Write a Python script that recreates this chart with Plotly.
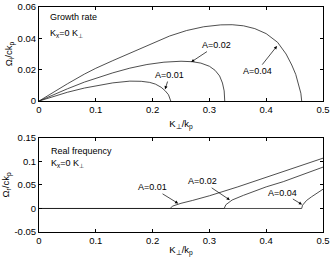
import plotly.graph_objects as go
from plotly.subplots import make_subplots

# Growth rate data (Omega_i / c k_p vs K_perp / k_p)
gx_001 = [0, 0.02, 0.05, 0.08, 0.1, 0.13, 0.16, 0.18, 0.195, 0.205, 0.215, 0.222, 0.228, 0.231, 0.232]
gy_001 = [0, 0.0023, 0.0056, 0.0083, 0.0098, 0.0116, 0.0127, 0.0126, 0.0119, 0.0108, 0.0088, 0.0066, 0.0040, 0.0018, 0]
gx_002 = [0, 0.02, 0.05, 0.08, 0.1, 0.13, 0.16, 0.19, 0.22, 0.25, 0.27, 0.285, 0.3, 0.31, 0.318, 0.323, 0.326, 0.327]
gy_002 = [0, 0.0032, 0.0078, 0.0121, 0.0146, 0.0180, 0.0210, 0.0233, 0.0248, 0.0254, 0.0251, 0.0242, 0.0222, 0.0196, 0.0160, 0.0115, 0.0065, 0]
gx_004 = [0, 0.02, 0.05, 0.08, 0.1, 0.13, 0.16, 0.2, 0.23, 0.26, 0.29, 0.32, 0.34, 0.36, 0.38, 0.4, 0.42, 0.435, 0.445, 0.452, 0.458, 0.461, 0.4625]
gy_004 = [0, 0.0045, 0.0110, 0.0172, 0.0209, 0.0258, 0.0305, 0.0370, 0.0415, 0.0450, 0.0474, 0.0486, 0.0487, 0.0480, 0.0462, 0.0430, 0.0375, 0.0300, 0.0230, 0.0170, 0.0100, 0.0050, 0]

# Real frequency data (Omega_r / c k_p)
rx_001 = [0, 0.231, 0.235, 0.24, 0.25, 0.27, 0.3, 0.35, 0.4, 0.45, 0.5]
ry_001 = [0, 0, 0.005, 0.0075, 0.011, 0.017, 0.027, 0.046, 0.066, 0.086, 0.107]
rx_002 = [0, 0.326, 0.329, 0.333, 0.34, 0.36, 0.38, 0.4, 0.43, 0.46, 0.5]
ry_002 = [0, 0, 0.008, 0.012, 0.018, 0.028, 0.037, 0.046, 0.057, 0.070, 0.088]
rx_004 = [0, 0.4625, 0.464, 0.467, 0.471, 0.48, 0.49, 0.5]
ry_004 = [0, 0, 0.007, 0.012, 0.017, 0.025, 0.033, 0.041]

x_ticks = [0, 0.1, 0.2, 0.3, 0.4, 0.5]
x_ticktext = ["0", "0.1", "0.2", "0.3", "0.4", "0.5"]
gy_ticks = [0, 0.02, 0.04, 0.06]
gy_ticktext = ["0", "0.02", "0.04", "0.06"]
ry_ticks = [-0.05, 0, 0.05, 0.1, 0.15]
ry_ticktext = ["-0.05", "0", "0.05", "0.1", "0.15"]

FONT = "Liberation Sans, Arial, sans-serif"
LC = "#222222"

fig = make_subplots(rows=2, cols=1, vertical_spacing=0.164)

for xs, ys in [(gx_001, gy_001), (gx_002, gy_002), (gx_004, gy_004)]:
    fig.add_trace(go.Scatter(x=xs, y=ys, mode="lines", line=dict(color=LC, width=0.8),
                             showlegend=False, hoverinfo="skip"), row=1, col=1)
for xs, ys in [(rx_001, ry_001), (rx_002, ry_002), (rx_004, ry_004)]:
    fig.add_trace(go.Scatter(x=xs, y=ys, mode="lines", line=dict(color=LC, width=0.8),
                             showlegend=False, hoverinfo="skip"), row=2, col=1)

axis_common = dict(showline=True, linecolor="black", linewidth=1, mirror="allticks",
                   ticks="inside", ticklen=3, tickwidth=0.8, tickcolor="black", automargin=False,
                   showgrid=False, zeroline=False, tickfont=dict(family=FONT, size=9.5, color="black"))

xtitle = dict(text="K<sub>⊥</sub>/k<sub>p</sub>", font=dict(family=FONT, size=9.5, color="black"), standoff=5)
fig.update_xaxes(range=[0, 0.5], tickvals=x_ticks, ticktext=x_ticktext, title=xtitle, **axis_common)
fig.update_yaxes(range=[0, 0.06], tickvals=gy_ticks, ticktext=gy_ticktext,
                 title=dict(text="Ω<sub>i</sub>/ck<sub>p</sub>", font=dict(family=FONT, size=9.5, color="black"), standoff=3),
                 row=1, col=1, **axis_common)
fig.update_yaxes(range=[-0.05, 0.15], tickvals=ry_ticks, ticktext=ry_ticktext,
                 title=dict(text="Ω<sub>r</sub>/ck<sub>p</sub>", font=dict(family=FONT, size=9.5, color="black"), standoff=3),
                 row=2, col=1, **axis_common)

tfont = dict(family=FONT, size=9, color="black")
ann = []
# text labels
ann.append(dict(x=0.016, y=0.0536, xref="x", yref="y", text="Growth rate", showarrow=False, xanchor="left", font=tfont))
ann.append(dict(x=0.016, y=0.0434, xref="x", yref="y", text="K<sub>x</sub>=0 K<sub>⊥</sub>", showarrow=False, xanchor="left", font=tfont))
ann.append(dict(x=0.0176, y=0.1224, xref="x2", yref="y2", text="Real frequency", showarrow=False, xanchor="left", font=tfont))
ann.append(dict(x=0.0176, y=0.0962, xref="x2", yref="y2", text="K<sub>x</sub>=0 K<sub>⊥</sub>", showarrow=False, xanchor="left", font=tfont))

arrow_style = dict(showarrow=True, arrowhead=2, arrowsize=0.9, arrowwidth=0.7, arrowcolor="black", font=tfont)
top_arrows = [("A=0.01", 0.230, 0.0166, 0.222, 0.0075),
              ("A=0.02", 0.313, 0.0357, 0.268, 0.0249),
              ("A=0.04", 0.384, 0.0191, 0.419, 0.0351)]
for t, axx, ayy, tx, ty in top_arrows:
    ann.append(dict(x=tx, y=ty, ax=axx, ay=ayy, xref="x", yref="y", axref="x", ayref="y", text=t, **arrow_style))
bot_arrows = [("A=0.01", 0.199, 0.045, 0.245, 0.0107),
              ("A=0.02", 0.287, 0.0577, 0.336, 0.018),
              ("A=0.04", 0.428, 0.034, 0.463, 0.0085)]
for t, axx, ayy, tx, ty in bot_arrows:
    ann.append(dict(x=tx, y=ty, ax=axx, ay=ayy, xref="x2", yref="y2", axref="x2", ayref="y2", text=t, **arrow_style))

fig.update_layout(width=332, height=257, margin=dict(l=39, r=9, t=7, b=25),
                  plot_bgcolor="white", paper_bgcolor="white", annotations=ann,
                  font=dict(family=FONT, size=9, color="black"))
fig.update_layout(yaxis=dict(domain=[0.582, 1.0]), yaxis2=dict(domain=[0.0, 0.418]))

fig.write_html("out.html", config={"displayModeBar": False},
               post_script="document.body.style.margin='0';document.body.style.overflow='hidden';")
